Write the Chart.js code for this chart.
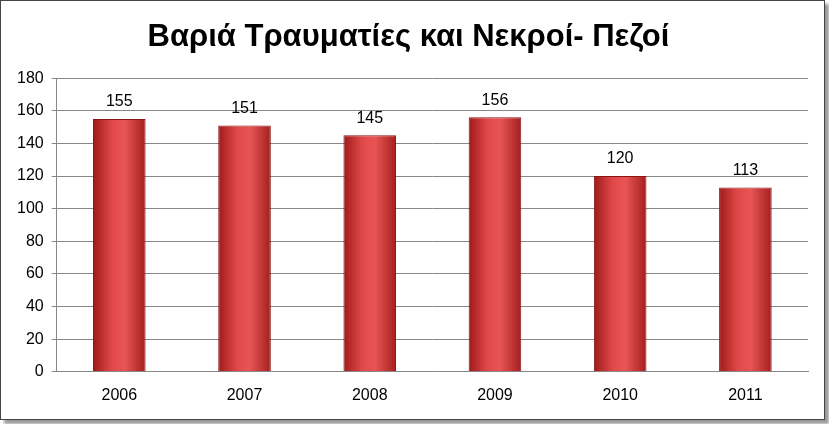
<!DOCTYPE html>
<html><head><meta charset="utf-8">
<script src="https://cdn.jsdelivr.net/npm/chart.js@4"></script>
<style>
html,body{margin:0;padding:0;background:#fff;}
#wrap{position:absolute;left:0;top:0;width:823px;height:418px;border:1px solid #444;box-shadow:4px 4px 3px #999;background:#fff;}
</style></head><body>
<div id="wrap"><canvas id="c" width="823" height="418"></canvas></div>
<script>
const categories=["2006","2007","2008","2009","2010","2011"];
const values=[155,151,145,156,120,113];
const titleText="Βαριά Τραυματίες και Νεκροί- Πεζοί";

const labelPlugin={id:'lbl',afterDatasetsDraw(chart){
  const ctx=chart.ctx;const meta=chart.getDatasetMeta(0);
  ctx.save();ctx.font='16px "Liberation Sans"';ctx.fillStyle='#000';ctx.textAlign='center';ctx.textBaseline='bottom';
  meta.data.forEach((b,i)=>ctx.fillText(values[i],b.x,b.y-9));
  ctx.restore();}};

function barFill(c){
  const ch=c.chart;const xs=ch.scales&&ch.scales.x;
  if(!ch.chartArea||!xs||c.dataIndex===undefined)return '#d33';
  const cx=xs.getPixelForValue(c.dataIndex);
  const w=(xs.width/categories.length)*0.42;
  if(!isFinite(cx)||!isFinite(w))return '#d33';
  const x0=cx-w/2;
  const g=ch.ctx.createLinearGradient(x0,0,x0+w,0);
  g.addColorStop(0,'#9e1a1a');g.addColorStop(0.35,'#e04848');g.addColorStop(0.6,'#e85555');g.addColorStop(1,'#a51e1e');
  return g;
}
new Chart(document.getElementById('c'),{
  type:'bar',
  data:{labels:categories,datasets:[{data:values,backgroundColor:barFill,borderColor:'#8a1515',borderWidth:1,barPercentage:0.42,categoryPercentage:1}]},
  options:{responsive:false,animation:false,
    layout:{padding:{left:8,right:16,top:10,bottom:8}},
    plugins:{legend:{display:false},tooltip:{enabled:false},
      title:{display:true,text:titleText,color:'#000',font:{family:'"Liberation Sans"',size:31,weight:'bold'},padding:{top:8,bottom:22}}},
    scales:{
      x:{grid:{display:false},border:{color:'#888'},ticks:{color:'#000',font:{family:'"Liberation Sans"',size:16},padding:6}},
      y:{min:0,max:180,ticks:{stepSize:20,color:'#000',font:{family:'"Liberation Sans"',size:16},padding:8},
         grid:{color:'#888',drawTicks:true,tickLength:5},border:{color:'#888'}}
    }},
  plugins:[labelPlugin]
});
</script></body></html>
